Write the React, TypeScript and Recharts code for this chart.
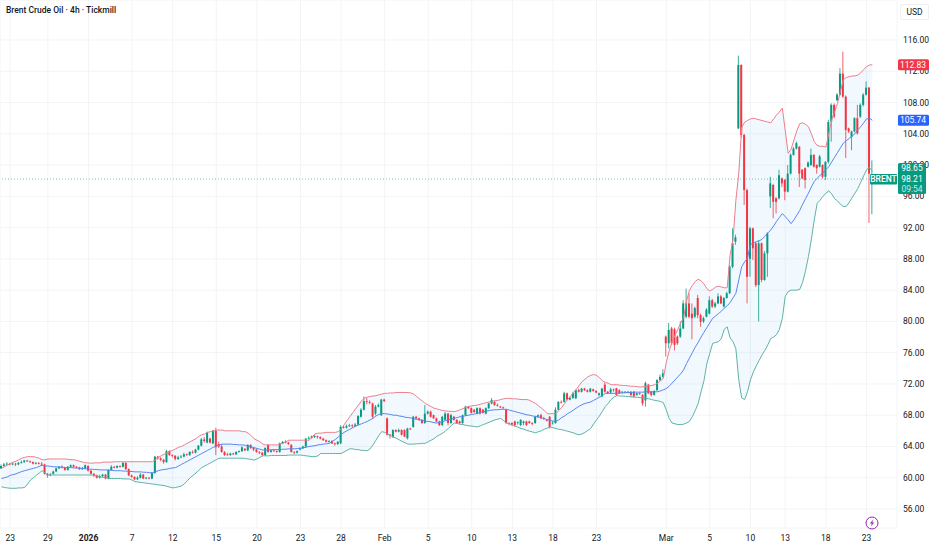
import React from "react";
import { ComposedChart, Bar, Line, Area, XAxis, YAxis, CartesianGrid, ReferenceLine } from "recharts";

const SLOTS = 309;
const PRICE_DOMAIN = [53.57, 121.117];
const PRICE_TICKS = [56, 60, 64, 68, 72, 76, 80, 84, 88, 92, 96, 100, 104, 108, 112, 116];
const DATE_TICK_INDEX = [3, 16, 30, 45, 59, 74, 88, 103, 117, 132, 147, 162, 176, 190, 205, 229, 244, 258, 270, 284, 298];
const DATE_TICK_LABEL = ["23", "29", "2026", "7", "12", "15", "20", "23", "28", "Feb", "5", "10", "13", "18", "23", "Mar", "5", "10", "13", "18", "23"];

const opens = [
61.2,61.5,61.7,61.8,61.7,61.8,61.7,61.9,62.0,62.2,
62.1,62.0,61.8,61.9,61.8,61.7,60.5,60.3,60.5,60.8,
61.2,61.4,61.3,61.0,61.4,61.6,61.4,61.3,61.1,61.2,
61.5,60.9,60.5,60.3,60.0,60.2,60.4,59.9,61.0,61.4,
61.3,61.5,61.4,61.9,61.1,60.3,60.1,59.8,60.0,60.4,
59.9,60.0,59.9,60.6,62.7,62.5,62.3,62.0,63.4,62.9,
62.8,62.4,62.6,62.7,63.0,62.9,63.3,63.2,63.6,64.1,
64.9,64.5,65.0,64.4,66.0,64.3,64.0,63.3,63.0,62.9,
63.1,63.0,63.3,63.4,63.7,63.5,64.2,63.8,63.6,63.3,
63.2,62.9,64.2,63.3,63.5,63.4,63.3,64.4,64.6,64.5,
64.2,63.3,63.2,63.6,63.75,64.0,65.0,65.1,65.2,65.3,
65.2,65.0,64.8,64.6,64.7,64.4,64.3,64.4,66.5,66.4,
66.6,66.7,66.6,66.8,67.8,68.7,69.8,69.7,69.5,68.2,
69.1,68.0,70.0,67.6,65.5,65.2,66.1,65.9,66.1,66.1,
65.05,66.3,66.5,67.8,67.6,67.4,67.0,68.2,68.45,68.0,
67.6,67.2,66.75,67.4,68.2,67.0,67.8,67.4,67.2,67.0,
68.0,69.1,68.9,68.7,68.2,68.9,68.7,68.2,68.9,69.5,
69.7,69.3,69.1,69.0,68.7,67.0,67.0,67.2,67.0,66.75,
67.0,67.2,67.2,67.0,67.0,67.8,68.0,67.6,67.4,67.8,
67.0,67.0,68.7,69.7,69.7,70.8,70.0,70.2,70.15,71.2,
71.0,71.4,71.2,71.0,71.3,71.1,70.6,70.4,71.9,71.0,
70.9,71.3,71.45,71.2,70.9,71.0,70.9,71.0,71.0,70.6,
70.8,70.6,69.9,71.9,71.0,70.6,71.2,72.5,72.9,78.05,
77.2,79.1,79.0,78.05,78.05,79.1,80.6,82.3,81.0,80.6,
83.0,80.8,80.0,80.6,81.0,82.7,81.9,82.3,83.2,81.9,
83.0,83.6,87.0,90.2,104.7,112.8,103.85,96.8,88.0,91.9,
90.0,84.65,90.0,85.3,88.7,96.0,97.45,95.75,95.75,98.3,
98.1,96.6,98.9,101.3,102.1,102.35,99.4,99.6,99.8,100,
101.3,100,99.8,100,98.5,100.4,105.55,107.7,108.3,109,
111.7,108.75,104.7,103.6,104.3,106,106.2,107.7,109,109.9,98,
];
const closes = [
61.5,61.7,61.8,61.7,61.8,61.7,61.9,62.0,62.2,62.1,
62.0,61.8,61.9,61.8,61.7,60.5,60.3,60.4,60.8,61.2,
61.4,61.3,61.0,61.4,61.6,61.4,61.3,61.1,61.2,61.6,
60.9,60.5,60.3,60.0,60.2,60.4,59.9,61.0,61.4,61.3,
61.5,61.4,61.9,61.1,60.3,60.1,59.8,60.0,60.4,59.9,
60.0,59.9,60.6,62.7,62.5,62.3,62.0,63.4,62.9,62.8,
62.4,62.6,62.7,63.0,62.9,63.3,63.2,63.6,64.1,64.9,
64.7,65.8,64.5,66.0,63.9,64.0,63.3,62.9,62.9,63.1,
63.0,63.3,63.4,63.9,63.5,64.2,63.8,63.6,63.3,63.2,
62.9,63.8,63.3,63.5,63.4,63.3,64.4,64.6,64.5,64.3,
63.3,63.2,63.4,63.75,64.0,65.0,65.1,65.3,65.35,65.2,
65.0,64.8,64.6,64.7,64.4,64.3,64.6,66.5,66.4,66.6,
66.7,66.6,66.8,67.9,68.7,69.8,69.7,69.6,67.8,69.1,
69.3,70.0,69.8,65.5,65.4,66.1,65.9,66.1,65.5,65.25,
66.3,66.2,67.8,67.6,67.4,67.0,68.2,68.45,67.8,67.6,
67.2,66.75,67.8,68.2,67.0,68.0,67.4,67.0,67.0,68.0,
69.1,68.9,68.3,68.4,68.9,68.2,68.3,68.9,69.5,69.95,
69.3,69.2,69.0,68.9,67.0,66.9,66.8,66.75,67.1,67.4,
67.2,66.75,67.0,66.9,67.8,68.0,67.6,67.5,67.3,66.5,
67.05,68.7,69.7,69.6,70.8,70.0,70.2,70.8,71.2,71.0,
71.4,71.2,71.0,71.4,71.1,70.9,70.8,71.4,71.0,70.8,
71.3,71.2,70.6,70.8,71.0,70.9,71.0,70.6,70.4,70.8,
70.7,69.5,72.1,70.8,70.6,71.1,72.5,72.9,73.35,77.2,
78.9,77.2,77.0,77.2,79.1,82.3,82.3,80.6,80.4,81.7,
80.8,79.95,80.4,81.5,82.7,81.9,82.3,83.2,82.3,83.0,
83.6,87.0,90.0,90.75,112.8,103.85,96.8,85.7,91.9,89.35,
84.65,90.0,85.3,88.7,91.25,97.66,95.3,95.3,98.7,97.66,
96.6,98.9,101.3,102.1,102.8,98.9,98.3,98.1,100.3,101.3,
99.8,99.6,101.1,98.5,100.4,105.5,107.7,106.2,109,111.7,
108.75,104.5,104.3,104.3,106,104.05,107.7,109,109.9,98.9,98.21,
];
const highs = [
61.7,61.9,62.0,61.9,62.0,61.9,62.0,62.2,62.3,62.3,
62.2,62.1,62.0,62.0,62.0,61.8,60.6,60.6,60.9,61.3,
61.5,61.6,61.4,61.5,61.7,61.7,61.5,61.4,61.4,61.7,
61.6,61.0,60.6,60.4,60.4,60.5,60.5,61.1,61.6,61.5,
61.6,61.6,62.0,62.0,61.2,60.4,60.2,60.2,60.6,60.5,
60.1,60.1,60.7,62.8,62.8,62.6,62.4,63.6,63.5,63.0,
62.9,62.8,62.9,63.2,63.1,63.4,63.5,63.7,64.2,65.1,
65.2,65.9,65.1,66.1,66.4,64.6,64.3,63.4,63.2,63.2,
63.2,63.4,63.5,64.0,63.8,64.3,64.3,63.9,63.7,63.4,
63.3,63.9,64.3,63.6,63.6,63.5,64.5,64.7,64.8,64.6,
64.3,63.4,63.5,63.9,64.1,65.1,65.3,65.4,65.45,65.4,
65.3,65.1,64.9,64.8,64.8,64.5,64.7,66.7,66.7,66.8,
66.9,66.85,67.0,68.0,68.9,70.4,70.2,69.9,69.6,69.3,
69.5,70.1,70.1,67.7,65.6,66.2,66.2,66.3,66.2,66.2,
66.4,66.4,67.9,67.9,67.7,67.5,69.3,68.6,68.6,68.1,
67.7,67.3,67.9,68.4,68.3,68.2,67.9,67.5,67.3,68.1,
69.2,69.2,69.0,68.8,69.0,69.0,68.8,69.0,69.6,70.2,
69.8,69.5,69.2,69.1,68.8,67.1,67.1,67.3,67.2,67.5,
67.3,67.3,67.3,67.1,67.9,68.1,68.2,67.8,67.5,67.9,
67.2,69.0,69.8,69.9,71.0,70.9,70.4,71.0,71.3,71.4,
71.5,71.5,71.3,71.5,71.4,71.2,70.9,71.5,72.2,71.1,
71.5,71.4,71.5,71.3,71.1,71.1,71.1,71.1,71.1,70.9,
70.9,70.7,72.3,72.0,71.1,71.2,72.6,73.2,73.9,78.2,
79.8,79.3,79.2,78.2,80.0,82.7,84.2,83.6,82.3,81.9,
83.4,81.0,80.6,81.7,83.2,82.9,82.5,83.6,83.4,83.1,
83.8,87.2,91.9,91.1,114.0,112.9,104.0,97.0,92.1,92.0,
90.2,90.4,90.1,89.0,91.4,98.5,97.6,95.9,99.4,98.4,
98.2,100.0,101.5,102.3,103.0,102.4,99.5,99.7,100.5,102.1,
101.4,100.1,101.3,100.1,100.5,105.8,107.9,107.9,109.2,112.4,
114.5,108.9,104.8,104.4,106.1,107.7,107.9,109.2,110.7,110.0,100.6,
];
const lows = [
61.1,61.4,61.6,61.6,61.6,61.5,61.6,61.8,61.9,62.0,
61.9,61.7,61.7,61.7,61.5,60.4,60.0,60.2,60.4,60.7,
61.1,61.2,60.9,60.9,61.3,61.3,61.2,61.0,61.0,61.1,
60.8,60.4,60.1,59.9,59.9,60.1,59.8,59.8,60.9,61.2,
61.2,61.3,61.3,61.0,60.2,60.0,59.7,59.7,59.9,59.8,
59.8,59.8,59.8,60.5,62.3,62.1,61.8,61.9,62.8,62.6,
62.2,62.3,62.5,62.6,62.8,62.8,63.1,63.1,63.5,64.0,
64.5,64.4,64.4,64.3,62.9,63.8,63.2,62.8,62.8,62.8,
62.9,62.9,63.2,63.3,63.4,63.4,63.7,63.4,63.2,63.0,
62.8,62.8,63.2,63.2,63.3,63.2,63.2,64.3,64.4,64.2,
63.2,63.0,63.1,63.5,63.7,63.9,64.9,65.0,65.1,65.0,
64.9,64.7,64.5,64.5,64.3,64.1,64.2,64.3,66.3,66.3,
66.5,66.4,66.5,66.7,67.7,68.6,69.4,69.4,67.6,68.0,
69.0,67.9,69.7,65.4,65.0,65.1,65.8,65.8,65.4,65.2,
64.9,66.1,66.4,67.4,67.3,66.9,66.9,68.1,67.7,67.5,
67.1,66.6,66.6,67.3,66.7,66.9,67.3,66.9,66.8,66.9,
67.9,68.8,68.2,68.3,68.1,68.1,68.2,68.1,68.8,69.4,
69.2,69.1,68.9,68.8,66.9,66.7,66.6,66.5,66.8,66.6,
66.7,66.6,66.9,66.7,66.9,67.7,67.5,67.4,67.2,66.3,
66.8,66.9,68.6,69.5,69.6,69.9,69.9,70.1,70.1,70.9,
70.9,71.1,70.9,70.9,71.0,70.8,70.4,70.3,70.9,70.7,
70.8,71.0,70.5,70.7,70.8,70.8,70.8,70.3,70.3,70.5,
70.6,69.2,69.1,70.7,70.4,70.5,71.1,72.4,72.8,75.5,
76.55,77.0,76.3,77.0,77.9,79.0,80.4,80.4,77.7,80.4,
80.4,79.3,79.8,80.5,80.9,81.7,81.7,82.2,82.2,81.8,
82.9,83.5,86.8,89.8,104.6,103.5,94.9,82.3,85.7,87.85,
84.4,80.0,85.0,85.2,85.7,94.5,93.2,93.8,95.6,97.2,
95.5,96.5,98.8,101.2,102.0,97.2,98.2,97.0,99.7,99.9,
99.7,98.9,99.7,98.3,98.1,100.2,103.0,106.0,108.2,108.9,
108.6,100.9,104.1,101.9,104.2,103.9,106.0,107.5,108.9,92.6,93.7,
];

const bbUpper = [
61.2,61.4,61.6,61.8,62.0,62.1,62.3,62.5,62.6,62.7,
62.7,62.7,62.6,62.5,62.3,62.3,62.4,62.4,62.4,62.4,
62.4,62.4,62.4,62.35,62.3,62.3,62.2,62.1,62.0,61.9,
61.9,61.85,61.9,61.9,61.9,62.0,62.0,62.0,62.0,62.05,
62.05,62.05,62.05,62.05,62.05,62.05,62.05,62.05,62.05,62.05,
62.05,62.05,62.05,62.3,62.6,62.8,63.0,63.2,63.4,63.5,
63.7,63.9,64.0,64.2,64.4,64.6,64.8,65.0,65.3,65.5,
65.6,65.8,65.9,66.0,66.1,66.1,66.1,66.0,66.0,66.0,
66.0,66.0,66.0,65.9,65.9,65.7,65.4,65.0,64.8,64.6,
64.3,64.2,64.2,64.2,64.2,64.2,64.3,64.4,64.6,64.8,
64.8,64.8,64.8,64.8,64.8,64.8,64.8,65.2,65.6,65.7,
65.7,65.75,65.8,65.8,65.8,65.8,65.9,66.2,66.75,67.3,
67.8,68.3,68.8,69.3,69.8,70.2,70.3,70.4,70.45,70.5,
70.6,70.7,70.8,70.8,70.85,70.85,70.9,70.9,70.9,70.9,
70.9,70.85,70.7,70.4,70.1,69.8,69.5,69.3,69.1,68.9,
68.8,68.7,68.6,68.55,68.5,68.5,68.45,68.55,68.7,68.85,
69,69.1,69.2,69.25,69.3,69.4,69.5,69.6,69.7,69.8,
69.85,69.9,70,70.1,70.15,70.15,70.1,70.1,70.05,70,
70,70,69.9,69.7,69.5,69.2,68.9,68.6,68.2,68.2,
68.2,68.2,68.6,69,69.5,70,70.4,70.9,71.3,71.8,
72.3,72.6,72.9,73.1,73.2,73.1,72.8,72.4,72.2,72.1,
71.9,71.9,71.9,71.85,71.8,71.8,71.75,71.7,71.7,71.65,
71.6,71.65,71.7,71.75,71.8,71.9,72.1,72.4,72.7,74.7,
76.2,77.4,78.2,79,79.8,80.5,82.6,84,84.6,85.1,
85.4,85.2,84.8,84.2,83.9,84.1,84.4,84.5,84.4,84.3,
84.3,88.5,90.4,95.5,99,104.8,105.5,105.7,105.9,106,
105.9,105.8,105.7,105.6,105.5,105.4,105.9,106.4,106.8,107.3,
104.4,101.5,102,103.2,104.4,105.3,105.4,105.2,104.9,104,
103,102.5,102.4,102.4,102.3,104,105.8,106.8,107.9,109.4,
110.9,111.2,111.3,111.4,111.4,111.5,111.8,112.2,112.6,112.8,112.83,
];
const bbMiddle = [
59.9,60.0,60.1,60.3,60.4,60.5,60.65,60.8,60.9,61.0,
61.1,61.2,61.3,61.45,61.6,61.5,61.5,61.45,61.4,61.4,
61.35,61.35,61.3,61.3,61.3,61.25,61.25,61.2,61.2,61.15,
61.1,61.1,61.05,61.05,61,61,61,60.95,60.95,60.9,
60.9,60.9,60.85,60.85,60.8,60.8,60.75,60.75,60.75,60.7,
60.7,60.65,60.65,60.75,60.9,61,61.05,61.1,61.2,61.25,
61.3,61.5,61.7,61.9,62.1,62.3,62.5,62.7,62.9,63.1,
63.3,63.5,63.7,63.9,64.05,64.2,64.3,64.3,64.3,64.3,
64.25,64.25,64.2,64.2,64.15,64.05,63.95,63.85,63.75,63.65,
63.55,63.55,63.55,63.6,63.6,63.6,63.6,63.65,63.65,63.7,
63.7,63.7,63.75,63.75,63.85,63.9,64,64.05,64.1,64.2,
64.25,64.3,64.35,64.4,64.65,64.9,65.2,65.5,65.8,66,
66.2,66.4,66.6,66.75,66.9,67.05,67.2,67.4,67.6,67.9,
68.1,68.2,68.2,68.15,68.1,68,68,67.9,67.85,67.75,
67.7,67.65,67.55,67.5,67.4,67.35,67.25,67.2,67.15,67.05,
67,67.1,67.2,67.3,67.4,67.5,67.6,67.7,67.8,67.85,
67.95,68,68.1,68.15,68.25,68.35,68.45,68.5,68.6,68.65,
68.7,68.7,68.75,68.75,68.75,68.65,68.55,68.45,68.35,68.25,
68.15,68.05,68,67.9,67.85,67.75,67.7,67.55,67.45,67.35,
67.25,67.2,67.4,67.7,67.9,68.2,68.4,68.65,68.9,69.15,
69.35,69.5,69.6,69.7,69.9,70.1,70.3,70.5,70.8,70.8,
70.8,70.8,70.8,70.85,70.85,70.9,70.9,70.9,70.95,70.95,
70.95,70.95,71,71,71,71,71,71.1,71.25,71.4,
71.7,72.1,72.5,72.9,73.3,73.8,74.6,75.3,76,76.7,
77.3,78,78.6,79.2,79.8,80.4,80.7,81,81.3,81.7,
82,82.4,83,83.6,85.3,87,87.6,88.1,89.8,90,
90.2,90.3,90.5,90.9,91.3,91.7,92.2,92.8,93.3,93.8,
93.4,93,92.5,93,93.6,94.2,95,95.7,96.4,97.2,
97.9,98.3,98.7,99,99.4,99.8,100.4,101,101.6,102.2,
102.8,103.1,103.4,103.7,104,104.5,104.9,105.4,105.9,106,105.74,
];
const bbLower = [
58.85,58.75,58.7,58.65,58.65,58.65,58.7,58.7,58.75,59.2,
59.7,60,60.3,60.6,60.9,60.6,60.35,60.35,60.35,60.35,
60.35,60.35,60.35,60.35,60.35,60.35,60.35,60.35,60.35,60.35,
60.35,60.35,60.3,60.2,60.1,60.05,60,59.9,59.9,59.9,
59.9,59.9,59.85,59.85,59.85,59.7,59.5,59.45,59.4,59.35,
59.3,59.25,59.2,59.15,59.1,59.05,59,58.9,58.8,58.7,
58.75,58.85,58.95,59.2,59.6,60,60.3,60.6,60.95,61.3,
61.5,61.7,61.9,62.1,62.3,62.5,62.5,62.5,62.5,62.5,
62.5,62.5,62.5,62.5,62.45,62.4,62.35,62.25,62.4,62.6,
62.8,62.8,62.8,62.85,62.85,62.85,62.85,62.85,62.85,62.9,
62.9,62.9,62.9,62.9,62.85,62.8,62.75,62.7,62.7,62.8,
63.1,63.1,63.1,63.1,63.1,63.1,63.1,63.1,63.3,63.5,
63.7,63.7,63.6,63.6,63.5,63.5,63.45,63.7,64.2,64.8,
65.4,65.9,65.8,65.6,65.4,65.2,65.05,64.85,64.65,64.5,
64.3,64.3,64.3,64.35,64.35,64.4,64.4,64.6,64.8,65,
65.3,65.5,65.7,66,66.3,66.7,67,66.95,66.85,66.8,
66.7,66.65,66.6,66.55,66.5,66.65,66.8,66.95,67.1,67.25,
67.4,67.5,67.6,67.3,67,66.9,66.75,66.6,66.45,66.3,
66.2,66.05,65.95,65.85,65.75,65.9,66,66.2,66.35,66.5,
66.4,66.3,66.2,66.15,66.05,65.95,65.85,65.75,65.6,65.5,
65.6,65.8,66.05,66.3,66.9,67.4,67.9,68.5,69.1,69.5,
70,70.3,70.5,70.45,70.45,70.4,70.4,70.35,70.3,70.3,
70.25,70.2,70.15,70.1,70,69.9,69.85,69.75,69.6,68.7,
67.6,67,66.9,66.8,66.8,66.85,67,67.2,67.8,68.6,
69.5,71,72.4,74.6,75.9,77.2,77.3,77.4,77.8,79,
79.3,77.9,77.4,76.5,72.5,70.2,70,71,72.5,73.5,
74.3,75,75.7,76.3,77,77.8,78,78.3,79,80.4,
83.2,83.8,84,84,84,84.1,85,86.5,88.3,90.5,
93,95.1,95.5,96,96.4,96.7,96.3,95.7,95.4,95,
94.7,94.7,95.2,95.8,96.4,97,97.8,98.6,99.4,99.7,99.2,
];

const rows = Array.from({ length: SLOTS }, (_, i) =>
  i < opens.length
    ? {
        i,
        open: opens[i],
        close: closes[i],
        high: highs[i],
        low: lows[i],
        range: [lows[i], highs[i]],
        upper: bbUpper[i],
        middle: bbMiddle[i],
        lower: bbLower[i],
        band: [bbLower[i], bbUpper[i]],
      }
    : { i }
);

const UP = "#089981";
const DOWN = "#F23645";
const FONT = "Roboto, 'Open Sans', sans-serif";
const TEXT = "#131722";

const Candle = (props: any) => {
  const { x, y, width, height, payload } = props;
  if (!payload || payload.high == null) return null;
  const span = payload.high - payload.low || 1;
  const at = (v: number) => y + ((payload.high - v) / span) * height;
  const color = payload.close >= payload.open ? UP : DOWN;
  const top = at(Math.max(payload.open, payload.close));
  const bottom = at(Math.min(payload.open, payload.close));
  const cx = x + width / 2;
  return (
    <g>
      <line x1={cx} x2={cx} y1={y} y2={y + height} stroke={color} strokeWidth={0.8} />
      <rect x={cx - 1} y={top} width={2} height={Math.max(bottom - top, 0.8)} fill={color} />
    </g>
  );
};

const DateTick = (props: any) => {
  const { x, payload } = props;
  const pos = DATE_TICK_INDEX.indexOf(payload.value);
  const label = DATE_TICK_LABEL[pos];
  return (
    <text x={x} y={541} textAnchor="middle" fontFamily={FONT} fontSize={8.5} fontWeight={label === "2026" ? 700 : 400} fill={TEXT}>
      {label}
    </text>
  );
};

const PriceTick = (props: any) => {
  const { y, payload } = props;
  return (
    <text x={903} y={y + 3} textAnchor="start" fontFamily={FONT} fontSize={8.5} fill={TEXT}>
      {payload.value.toFixed(2)}
    </text>
  );
};

const PriceTag = (props: any) => {
  const { viewBox, text, fill } = props;
  const left = viewBox.x + viewBox.width + 1;
  return (
    <g>
      <rect x={left} y={viewBox.y - 5.5} width={31} height={11} rx={1.5} fill={fill} />
      <text x={left + 15} y={viewBox.y + 3} textAnchor="middle" fontFamily={FONT} fontSize={8.5} fill="#fff">
        {text}
      </text>
    </g>
  );
};

const LastTag = (props: any) => {
  const { viewBox } = props;
  const left = viewBox.x + viewBox.width;
  const y = viewBox.y;
  return (
    <g fontFamily={FONT} fontSize={8.5} fill="#fff">
      <rect x={left - 27} y={y - 5} width={27} height={10.5} rx={1} fill={UP} />
      <text x={left - 13.5} y={y + 3} textAnchor="middle" fontWeight={500}>BRENT</text>
      <rect x={left + 1} y={y - 16} width={28} height={31} rx={1.5} fill={UP} />
      <text x={left + 15} y={y - 8} textAnchor="middle">98.65</text>
      <text x={left + 15} y={y + 3} textAnchor="middle">98.21</text>
      <text x={left + 15} y={y + 13} textAnchor="middle" fillOpacity={0.8}>09:54</text>
    </g>
  );
};

export default function App() {
  return (
    <div style={{ position: "absolute", left: 0, top: 0, width: 932, height: 550, background: "#fff", overflow: "hidden" }}>
      <ComposedChart width={932} height={550} data={rows} margin={{ top: 0, right: 0, bottom: 0, left: 0 }}>
        <CartesianGrid stroke="#f3f4f6" strokeWidth={1} />
        <XAxis
          dataKey="i"
          type="category"
          ticks={DATE_TICK_INDEX}
          interval={0}
          axisLine={false}
          tickLine={false}
          height={22}
          tick={<DateTick />}
        />
        <YAxis
          orientation="right"
          type="number"
          domain={PRICE_DOMAIN}
          allowDataOverflow
          ticks={PRICE_TICKS}
          interval={0}
          axisLine={false}
          tickLine={false}
          width={35}
          tick={<PriceTick />}
        />
        <Area dataKey="band" stroke="none" fill="#2196f3" fillOpacity={0.06} isAnimationActive={false} connectNulls={false} dot={false} activeDot={false} />
        <Line dataKey="upper" stroke="#ec7f8c" strokeWidth={1} dot={false} activeDot={false} isAnimationActive={false} />
        <Line dataKey="lower" stroke="#5fb3a3" strokeWidth={1} dot={false} activeDot={false} isAnimationActive={false} />
        <Line dataKey="middle" stroke="#5b84f0" strokeWidth={1} dot={false} activeDot={false} isAnimationActive={false} />
        <Bar dataKey="range" barSize={2} shape={<Candle />} isAnimationActive={false} />
        <ReferenceLine y={98.21} stroke={UP} strokeOpacity={0.7} strokeWidth={0.8} strokeDasharray="1 2" />
      </ComposedChart>
      <div style={{ position: "absolute", left: 0, top: 0, pointerEvents: "none" }}>
        <ComposedChart width={932} height={550} data={rows} margin={{ top: 0, right: 35, bottom: 22, left: 0 }}>
          <XAxis dataKey="i" type="category" hide />
          <YAxis type="number" domain={PRICE_DOMAIN} allowDataOverflow hide />
          <ReferenceLine y={98.21} stroke="none" label={<LastTag />} />
          <ReferenceLine y={112.83} stroke="none" label={<PriceTag text="112.83" fill={DOWN} />} />
          <ReferenceLine y={105.74} stroke="none" label={<PriceTag text="105.74" fill="#2962FF" />} />
        </ComposedChart>
      </div>
      <div style={{ position: "absolute", left: 6, top: 5, fontFamily: FONT, fontSize: 8.5, fontWeight: 500, color: TEXT, whiteSpace: "nowrap" }}>
        Brent Crude Oil · 4h · Tickmill
      </div>
      <div style={{ position: "absolute", left: 900, top: 4, width: 27, height: 14, border: "1px solid #eef0f3", borderRadius: 2, fontFamily: FONT, fontSize: 8.5, lineHeight: "14px", textAlign: "center", color: TEXT }}>
        USD
      </div>
      <svg style={{ position: "absolute", left: 865, top: 516 }} width={14} height={14} viewBox="0 0 14 14">
        <circle cx={7} cy={7} r={6} fill="none" stroke="#9c27b0" strokeWidth={1} />
        <path d="M8.2 3.4 L4.9 7.6 L6.9 7.6 L5.8 10.6 L9.2 6.4 L7.2 6.4 Z" fill="#9c27b0" />
      </svg>
    </div>
  );
}
